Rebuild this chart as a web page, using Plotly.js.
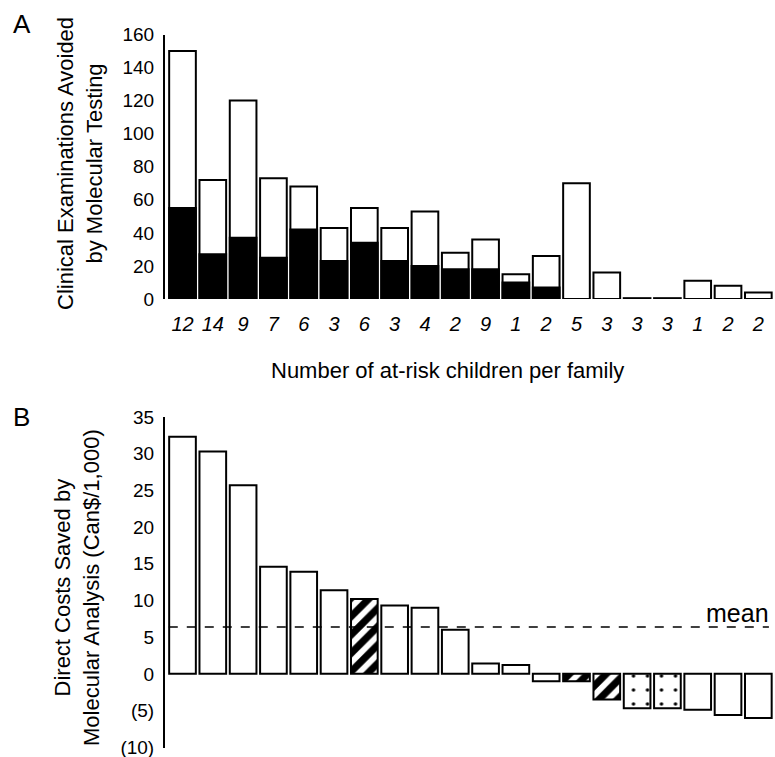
<!DOCTYPE html>
<html>
<head>
<meta charset="utf-8">
<script src="https://cdn.plot.ly/plotly-3.0.1.min.js"></script>
<style>html,body{margin:0;padding:0;background:#fff;}#chart{width:775px;height:757px;}</style>
</head>
<body>
<div id="chart"></div>
<script>
// Panel A data
const childrenPerFamily = ["12","14","9","7","6","3","6","3","4","2","9","1","2","5","3","3","3","1","2","2"];
const examsTotal = [150, 72, 120, 73, 68, 43, 55, 43, 53, 28, 36, 15, 26, 70, 16, 0.5, 0.5, 11, 8, 4];
const examsBlack = [55, 27, 37, 25, 42, 23, 34, 23, 20, 18, 18, 10, 7, 0, 0, 0, 0, 0, 0, 0];
// Panel B data
const costsSaved = [32.3, 30.3, 25.7, 14.6, 13.9, 11.4, 10.2, 9.3, 9.0, 6.0, 1.4, 1.2, -1.0, -1.0, -3.5, -4.7, -4.7, -4.9, -5.6, -6.0];
const costPattern = ["", "", "", "", "", "", "/", "", "", "", "", "", "", "/", "/", ".", ".", "", "", ""];
const meanValue = 6.4;
const yTicksA = [0, 20, 40, 60, 80, 100, 120, 140, 160];
const yTicksB = [35, 30, 25, 20, 15, 10, 5, 0, -5, -10];
const yTickTextB = ["35", "30", "25", "20", "15", "10", "5", "0", "(5)", "(10)"];

const idx = childrenPerFamily.map((_, i) => i);
const FONT = "Liberation Sans, Arial, Helvetica, sans-serif";

const traces = [
  {
    type: "bar", x: idx, y: examsTotal, xaxis: "x", yaxis: "y",
    marker: {color: "#ffffff", line: {color: "#000", width: 2}},
    hoverinfo: "y", showlegend: false
  },
  {
    type: "bar", x: idx, y: examsBlack, xaxis: "x", yaxis: "y",
    marker: {color: "#000000", line: {color: "#000", width: 2}},
    hoverinfo: "y", showlegend: false
  },
  {
    type: "bar", x: idx, y: costsSaved, xaxis: "x2", yaxis: "y2",
    marker: {
      color: "#ffffff",
      line: {color: "#000", width: 2},
      pattern: {
        shape: costPattern,
        fgcolor: "#000",
        bgcolor: "#fff",
        fgopacity: 1,
        size: costPattern.map(s => s === "." ? 14 : 13),
        solidity: costPattern.map(s => s === "." ? 0.05 : 0.55),
        fillmode: "replace"
      }
    },
    hoverinfo: "y", showlegend: false
  }
];

const xDom = [164.5 / 775, 1];
const xRange = [-0.594, 19.55];

const layout = {
  width: 775, height: 757,
  margin: {l: 0, r: 0, t: 0, b: 0},
  paper_bgcolor: "#fff", plot_bgcolor: "#fff",
  barmode: "overlay", bargap: 0.12,
  font: {family: FONT, color: "#000"},
  xaxis: {
    domain: xDom, range: xRange, anchor: "y",
    tickmode: "array", tickvals: idx, ticktext: childrenPerFamily,
    tickfont: {size: 20, family: FONT, style: "italic"},
    ticks: "", ticklabelstandoff: 11,
    showline: false, showgrid: false, zeroline: false, fixedrange: true
  },
  yaxis: {
    domain: [1 - 299 / 757, 1 - 34.5 / 757], range: [0, 160], anchor: "x",
    tickmode: "array", tickvals: yTicksA,
    tickfont: {size: 19, family: FONT},
    ticks: "", ticklabelstandoff: 5, ticklabeloverflow: "allow",
    showline: true, linecolor: "#000", linewidth: 1.5,
    showgrid: false, zeroline: false, fixedrange: true
  },
  xaxis2: {
    domain: xDom, range: xRange, anchor: "y2",
    showticklabels: false, ticks: "",
    showline: false, showgrid: false, zeroline: false, fixedrange: true
  },
  yaxis2: {
    domain: [1 - 748 / 757, 1 - 417 / 757], range: [-10.1, 35], anchor: "x2",
    tickmode: "array", tickvals: yTicksB, ticktext: yTickTextB,
    tickfont: {size: 19, family: FONT},
    ticks: "", ticklabelstandoff: 5, ticklabeloverflow: "allow",
    showline: true, linecolor: "#000", linewidth: 1.5,
    showgrid: false, zeroline: false, fixedrange: true
  },
  shapes: [
    {type: "line", xref: "x2 domain", yref: "y2", x0: 0.007, x1: 0.99, y0: meanValue, y1: meanValue,
     line: {color: "#000", width: 1.5, dash: "dash"}}
  ],
  annotations: [
    {text: "A", xref: "paper", yref: "paper", x: 22 / 775, y: 1 - 24 / 757, xanchor: "center", yanchor: "middle",
     showarrow: false, font: {size: 26, family: FONT}},
    {text: "B", xref: "paper", yref: "paper", x: 21 / 775, y: 1 - 417 / 757, xanchor: "center", yanchor: "middle",
     showarrow: false, font: {size: 26, family: FONT}},
    {text: "Clinical Examinations Avoided<br>by Molecular Testing", xref: "paper", yref: "paper",
     x: 80 / 775, y: 1 - 164 / 757, xanchor: "center", yanchor: "middle", textangle: -90,
     showarrow: false, font: {size: 22, family: FONT}},
    {text: "Direct Costs Saved by<br>Molecular Analysis (Can$/1,000)", xref: "paper", yref: "paper",
     x: 77 / 775, y: 1 - 588 / 757, xanchor: "center", yanchor: "middle", textangle: -90,
     showarrow: false, font: {size: 22, family: FONT}},
    {text: "Number of at-risk children per family", xref: "paper", yref: "paper",
     x: 447 / 775, y: 1 - 370 / 757, xanchor: "center", yanchor: "middle",
     showarrow: false, font: {size: 22, family: FONT}},
    {text: "mean", xref: "paper", yref: "y2", x: 771 / 775, y: meanValue, xanchor: "right", yanchor: "bottom",
     yshift: -2, showarrow: false, font: {size: 25, family: FONT}}
  ]
};

Plotly.newPlot("chart", traces, layout, {displayModeBar: false, staticPlot: true});
</script>
</body>
</html>
